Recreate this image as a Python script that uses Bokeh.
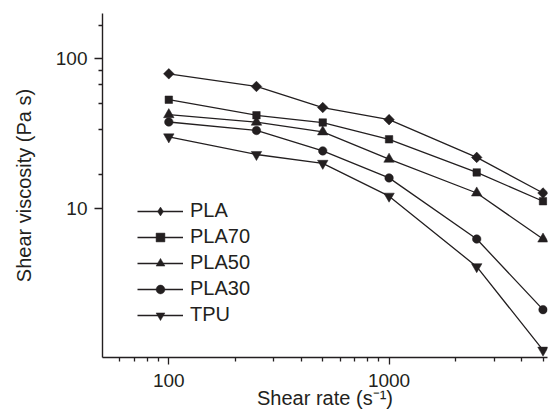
import numpy as np
from bokeh.plotting import figure
from bokeh.models import FixedTicker, Legend, LegendItem, BasicTickFormatter
from bokeh.embed import file_html
from bokeh.resources import INLINE

# ---- data ----
shear_rate = [100, 250, 500, 1000, 2500, 5000]
pla = [79, 65, 47, 39, 21.8, 12.6]
pla70 = [53, 41.7, 37.3, 28.8, 17.3, 11.1]
pla50 = [42.1, 37.5, 32.3, 21.2, 12.6, 6.2]
pla30 = [37.6, 33.0, 24.1, 15.9, 6.2, 2.09]
tpu = [29.9, 22.8, 19.9, 12.0, 4.05, 1.12]
series_names = ["PLA", "PLA70", "PLA50", "PLA30", "TPU"]

x_major_ticks = [100, 1000]
x_minor_ticks = [60, 70, 80, 90, 200, 300, 400, 500, 600, 700, 800, 900,
                 2000, 3000, 4000, 5000]
y_major_ticks = [10, 100]
y_minor_ticks = [16.67, 33.33, 50, 66.67, 83.33, 166.67]

x_title = "Shear rate (s\u207b\u00b9)"
y_title = "Shear viscosity (Pa s)"

INK = "#231f20"
FONT = "Liberation Sans"

p = figure(width=555, height=414, x_axis_type="log", y_axis_type="log",
           x_range=(50, 5240), y_range=(1, 200),
           output_backend="svg", toolbar_location=None,
           min_border_left=102, min_border_right=8, min_border_top=13,
           min_border_bottom=57)
p.outline_line_color = None
p.grid.visible = False
p.background_fill_color = "white"

for ax, maj, mnr, tick_len, standoff in (
        (p.xaxis, x_major_ticks, x_minor_ticks, 7, 9),
        (p.yaxis, y_major_ticks, y_minor_ticks, 8, 7)):
    ax.ticker = FixedTicker(ticks=maj, minor_ticks=mnr)
    ax.formatter = BasicTickFormatter()
    ax.axis_line_color = INK
    ax.axis_line_width = 1.4
    ax.major_tick_line_color = INK
    ax.major_tick_line_width = 1.3
    ax.minor_tick_line_color = INK
    ax.minor_tick_line_width = 1.3
    ax.major_tick_in = 0
    ax.major_tick_out = tick_len
    ax.minor_tick_in = 0
    ax.minor_tick_out = 4
    ax.major_label_text_font = FONT
    ax.major_label_text_font_size = "19px"
    ax.major_label_text_color = INK
    ax.major_label_standoff = standoff
    ax.axis_label_text_font = FONT
    ax.axis_label_text_font_size = "20px"
    ax.axis_label_text_font_style = "normal"
    ax.axis_label_text_color = INK

p.xaxis.axis_label = x_title
p.xaxis.axis_label_standoff = -3
p.yaxis.axis_label = y_title
p.yaxis.axis_label_standoff = 18

series = [pla, pla70, pla50, pla30, tpu]
markers = [("square", 7.5, np.pi / 4), ("square", 7.5, 0),
           ("triangle", 10.5, 0), ("circle", 8.5, 0),
           ("inverted_triangle", 10.5, 0)]

items = []
for name, ys, (mk, sz, ang) in zip(series_names, series, markers):
    lr = p.line(shear_rate, ys, line_color=INK, line_width=1.3)
    rends = [lr]
    if ang != 0:
        # a diamond hidden under the rotated square: gives the legend a
        # diamond swatch (legend swatches are never rotated)
        rends.append(p.scatter(shear_rate, ys, marker="diamond", size=9,
                               fill_color=INK, line_color=INK, line_width=0.5))
    sr = p.scatter(shear_rate, ys, marker=mk, size=sz, angle=ang,
                   fill_color=INK, line_color=INK, line_width=0.5)
    if ang == 0:
        rends.append(sr)
    items.append(LegendItem(label=name, renderers=rends))

legend = Legend(items=items, location=(35, 31), padding=0, margin=0,
                spacing=3, glyph_width=46, glyph_height=22, label_height=22,
                label_standoff=7, label_text_font=FONT,
                label_text_font_size="20px", label_text_color=INK,
                background_fill_alpha=0, border_line_color=None)
p.add_layout(legend)

open("out.html", "w").write(file_html(p, INLINE))
